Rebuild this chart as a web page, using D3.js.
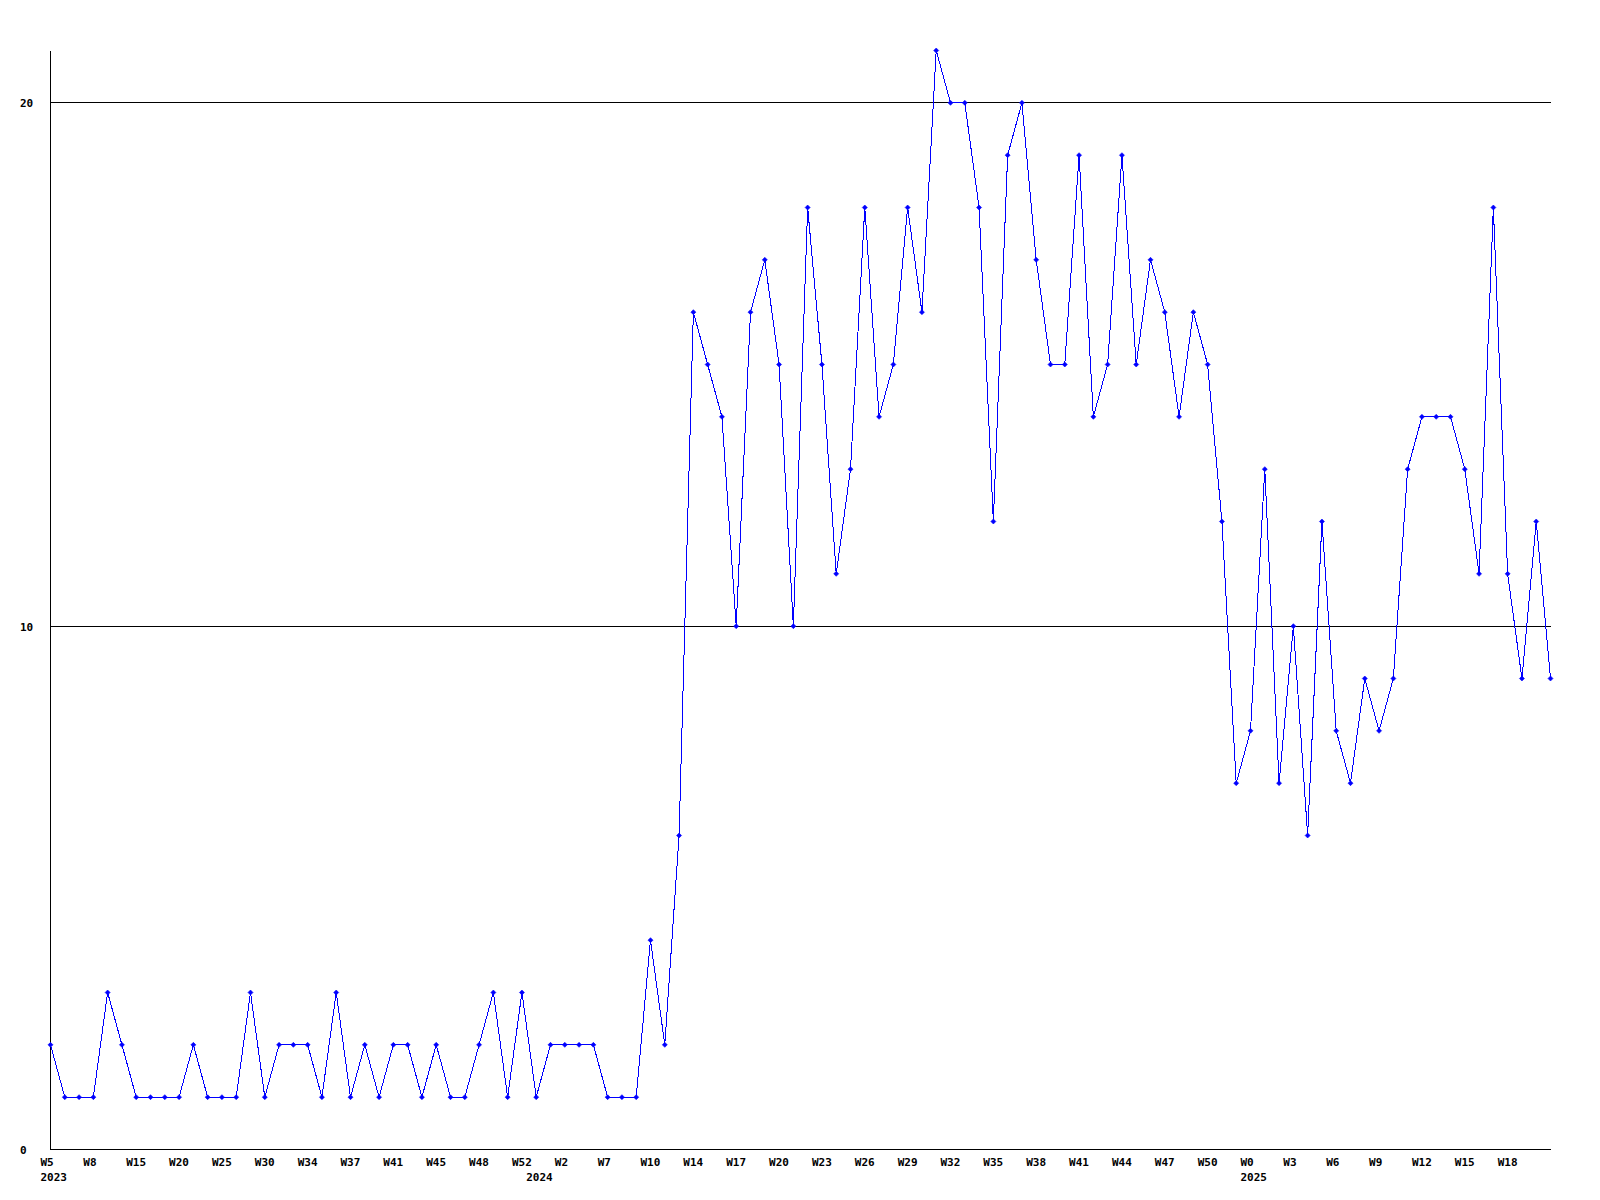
<!DOCTYPE html>
<html>
<head>
<meta charset="utf-8">
<script src="https://cdn.jsdelivr.net/npm/d3@7"></script>
<style>
  html, body { margin: 0; padding: 0; background: #ffffff; }
  svg { display: block; }
  text { font-family: "DejaVu Sans Mono", "Liberation Mono", monospace; font-weight: bold; font-size: 11px; fill: #000; }
</style>
</head>
<body>
<svg id="chart" width="1600" height="1200"></svg>
<script>
// ---- data ----
const values = [
  2,1,1,1,3,2,1,1,1,1,2,1,1,1,3,1,2,2,2,1,3,1,2,1,2,2,1,2,1,1,2,3,1,3,1,2,
  2,2,2,1,1,1,4,2,6,16,15,14,10,16,17,15,10,18,15,11,13,18,14,15,18,16,21,20,20,18,12,19,20,17,15,
  15,19,14,15,19,15,17,16,14,16,15,12,7,8,13,7,10,6,12,8,7,9,8,9,13,14,14,14,13,11,18,11,9,12,9
];
const weekLabels = [
  "W5","W8","W15","W20","W25","W30","W34","W37","W41","W45","W48","W52",
  "W2","W7","W10","W14","W17","W20","W23","W26","W29","W32","W35","W38",
  "W41","W44","W47","W50","W0","W3","W6","W9","W12","W15","W18"
];
const yearLabels = ["2023", "2024", "2025"];
const yearPositions = [0, 34, 84];
const yTicks = [0, 10, 20];
const yMax = 21;
const labelEvery = 3;

(function () {
  const svg = d3.select("#chart");
  const mLeft = 50.5, mRight = 1550.5, mTop = 50.5, mBottom = 1149.5;

  const idx = d3.range(values.length);
  const x = d3.scalePoint().domain(idx).range([mLeft, mRight]);
  const y = d3.scaleLinear().domain([0, yMax]).range([mBottom, mTop]);

  const styleText = sel => sel
    .style("font-family", "'DejaVu Sans Mono', monospace")
    .style("font-weight", "bold")
    .style("font-size", "11px")
    .attr("fill", "#000");

  // grid lines
  svg.append("g").selectAll("line")
    .data(yTicks.filter(d => d > 0))
    .join("line")
    .attr("x1", mLeft).attr("x2", mRight + 0.5)
    .attr("y1", d => Math.round(y(d) - 0.5) + 0.5).attr("y2", d => Math.round(y(d) - 0.5) + 0.5)
    .attr("stroke", "#000").attr("stroke-width", 1)
    .attr("shape-rendering", "crispEdges");

  // y axis
  const yAxis = d3.axisLeft(y).tickValues(yTicks).tickSize(0).tickPadding(0).tickFormat(d3.format("d"));
  const gy = svg.append("g").attr("transform", `translate(${mLeft},0)`).call(yAxis);
  gy.select(".domain").attr("d", `M0,${mTop}V${mBottom}`).attr("stroke", "#000").attr("shape-rendering", "crispEdges");
  gy.selectAll(".tick text")
    .attr("text-anchor", "start")
    .attr("x", 20 - mLeft)
    .attr("dy", "0.36em")
    .call(styleText);

  // x axis (week labels)
  const tickIdx = weekLabels.map((_, i) => i * labelEvery);
  const xAxis = d3.axisBottom(x).tickValues(tickIdx).tickSize(0).tickPadding(0)
    .tickFormat((d, i) => weekLabels[i]);
  const gx = svg.append("g").attr("transform", `translate(0,${mBottom})`).call(xAxis);
  gx.select(".domain").attr("d", `M${mLeft},0H${mRight + 0.5}`).attr("stroke", "#000").attr("shape-rendering", "crispEdges");
  gx.selectAll(".tick text")
    .attr("text-anchor", "start")
    .attr("x", -10.5)
    .attr("y", 16.5)
    .attr("dy", 0)
    .call(styleText);

  // year labels (second row)
  const yearAxis = d3.axisBottom(x).tickValues(yearPositions).tickSize(0).tickPadding(0)
    .tickFormat((d, i) => yearLabels[i]);
  const gYear = svg.append("g").attr("transform", `translate(0,${mBottom})`).call(yearAxis);
  gYear.select(".domain").remove();
  gYear.selectAll(".tick text")
    .attr("text-anchor", "start")
    .attr("x", -10.5)
    .attr("y", 31.5)
    .attr("dy", 0)
    .call(styleText);

  // line
  const line = d3.line().x((d, i) => x(i)).y(d => y(d));
  svg.append("path")
    .datum(values)
    .attr("d", line)
    .attr("fill", "none")
    .attr("stroke", "#0000ff")
    .attr("stroke-width", 1)
    .attr("shape-rendering", "crispEdges");

  // markers
  svg.append("g").selectAll("path")
    .data(values)
    .join("path")
    .attr("transform", (d, i) => `translate(${x(i)},${y(d)})`)
    .attr("d", "M-2.5,0L0,-2.5L2.5,0L0,2.5Z")
    .attr("fill", "#0000ff")
    .attr("stroke", "#0000ff")
    .attr("stroke-width", 0.6);
})();
</script>
</body>
</html>
